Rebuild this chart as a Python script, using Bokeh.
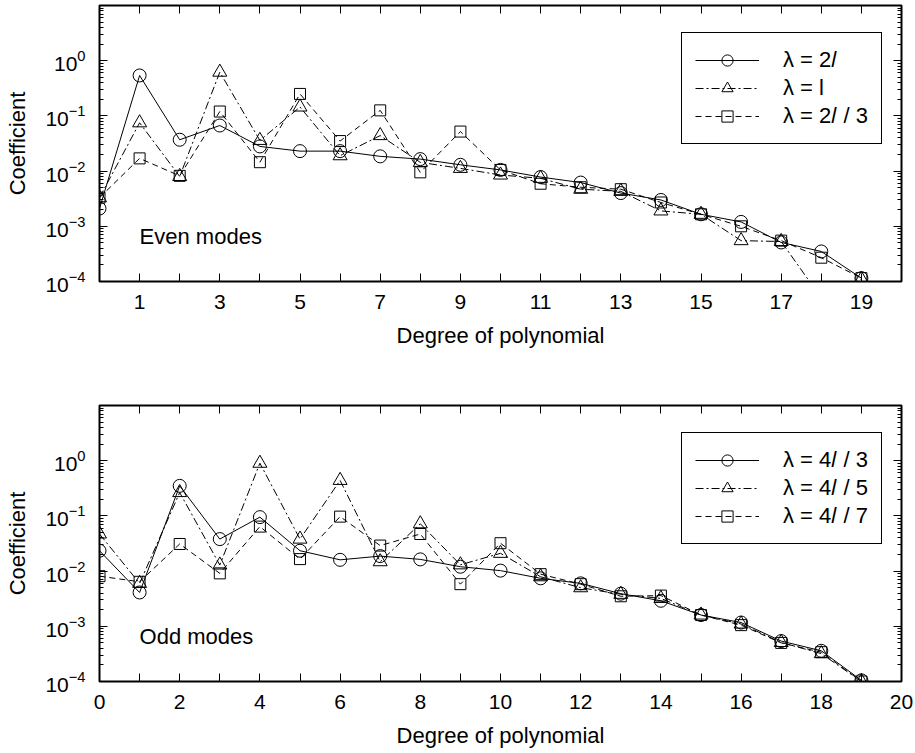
from bokeh.plotting import figure
from bokeh.layouts import column
from bokeh.models import (FixedTicker, LinearAxis, LogAxis, LogTickFormatter,
                          CustomJSTickFormatter, Legend, LegendItem, Label, Range1d)
from bokeh.embed import file_html
from bokeh.resources import INLINE

FONT = "Liberation Sans"

degrees = list(range(20))

# Even modes
even_lam_2l = [2.1e-3, 0.54, 0.037, 0.067, 0.028, 0.023, 0.023, 0.0185, 0.0165, 0.013,
               0.0105, 0.0078, 0.0062, 0.004, 0.003, 0.00165, 0.0012, 0.00051, 0.00035, 1.15e-4]
even_lam_l = [3.3e-3, 0.075, 0.008, 0.62, 0.036, 0.145, 0.019, 0.044, 0.0144, 0.0112,
              0.0085, 0.0074, 0.0047, 0.0043, 0.0019, 0.00165, 0.00055, 0.00053, 5e-5, 1.1e-4]
even_lam_2l3 = [3.3e-3, 0.017, 0.0082, 0.12, 0.0145, 0.25, 0.035, 0.126, 0.0095, 0.052,
                0.0105, 0.0059, 0.0051, 0.0047, 0.0027, 0.00165, 0.001, 0.00055, 0.00027, 1.15e-4]
even_labels = ["λ = 2𝑙", "λ = l", "λ = 2𝑙 / 3"]

# Odd modes
odd_lam_4l3 = [0.0234, 0.0041, 0.35, 0.038, 0.095, 0.0234, 0.016, 0.0187, 0.0163, 0.012,
               0.0102, 0.0074, 0.006, 0.0039, 0.0029, 0.0016, 0.00117, 0.00054, 0.00036, 1.05e-4]
odd_lam_4l5 = [0.047, 0.006, 0.265, 0.0129, 0.9, 0.038, 0.44, 0.0148, 0.072, 0.013,
               0.021, 0.0079, 0.005, 0.0038, 0.0032, 0.0016, 0.0011, 0.00051, 0.00032, 1.0e-4]
odd_lam_4l7 = [0.0081, 0.0064, 0.031, 0.0091, 0.064, 0.0165, 0.097, 0.029, 0.047, 0.0058,
               0.032, 0.0088, 0.0058, 0.0035, 0.0036, 0.0016, 0.00105, 0.0005, 0.00034, 1.0e-4]
odd_labels = ["λ = 4𝑙 / 3", "λ = 4𝑙 / 5", "λ = 4𝑙 / 7"]

y_major = [1e-4, 1e-3, 1e-2, 1e-1, 1e0]
y_minor = [k * 10.0 ** e for e in range(-4, 1) for k in range(2, 10)]

STYLES = [
    dict(marker="circle", size=13, dash="solid"),
    dict(marker="triangle", size=14, dash="8 3 2 3"),
    dict(marker="square", size=11, dash="6 4"),
]


def make_panel(series, labels, x_major, x_minor, note, height, top_border, bottom_border):
    p = figure(width=915, height=height, output_backend="svg", toolbar_location=None,
               y_axis_type="log", x_range=Range1d(0, 20), y_range=Range1d(1e-4, 10),
               min_border_left=99, min_border_right=14, min_border_top=top_border,
               min_border_bottom=bottom_border)
    p.grid.visible = False
    p.outline_line_color = "black"
    p.outline_line_width = 2
    p.background_fill_color = "white"
    p.border_fill_color = "white"

    # bottom axis
    xa = p.xaxis[0]
    xa.ticker = FixedTicker(ticks=x_major, minor_ticks=x_minor)
    xa.axis_line_color = None
    xa.major_tick_in = 8
    xa.major_tick_out = 0
    xa.minor_tick_in = 8
    xa.minor_tick_out = 0
    xa.major_tick_line_color = "black"
    xa.minor_tick_line_color = "black"
    xa.major_label_text_font = FONT
    xa.major_label_text_font_size = "21px"
    xa.major_label_text_color = "black"
    xa.major_label_standoff = 13
    xa.axis_label = "Degree of polynomial"
    xa.axis_label_text_font = FONT
    xa.axis_label_text_font_size = "22px"
    xa.axis_label_text_font_style = "normal"
    xa.axis_label_text_color = "black"
    xa.axis_label_standoff = 11

    # left axis
    ya = p.yaxis[0]
    ya.ticker = FixedTicker(ticks=y_major, minor_ticks=y_minor)
    ya.formatter = LogTickFormatter()
    ya.axis_line_color = None
    ya.major_tick_in = 8
    ya.major_tick_out = 0
    ya.minor_tick_in = 4
    ya.minor_tick_out = 0
    ya.major_tick_line_color = "black"
    ya.minor_tick_line_color = "black"
    ya.major_label_text_font = FONT
    ya.major_label_text_font_size = "21px"
    ya.major_label_text_color = "black"
    ya.major_label_standoff = 14
    ya.axis_label = "Coefficient"
    ya.axis_label_text_font = FONT
    ya.axis_label_text_font_size = "22px"
    ya.axis_label_text_font_style = "normal"
    ya.axis_label_text_color = "black"
    ya.axis_label_standoff = 12

    blank = CustomJSTickFormatter(code="return ''")
    # mirrored axes (ticks only)
    top = LinearAxis(ticker=FixedTicker(ticks=list(range(0, 21))), axis_line_color=None,
                     formatter=blank, major_tick_in=8, major_tick_out=0,
                     major_tick_line_color="black", major_label_standoff=0,
                     major_label_text_font_size="1px")
    p.add_layout(top, "above")
    right = LogAxis(ticker=FixedTicker(ticks=y_major, minor_ticks=y_minor), axis_line_color=None,
                    formatter=blank, major_tick_in=8, major_tick_out=0, minor_tick_in=4,
                    minor_tick_out=0, major_tick_line_color="black",
                    minor_tick_line_color="black", major_label_standoff=0,
                    major_label_text_font_size="1px")
    p.add_layout(right, "right")

    items = []
    for vals, lab, st in zip(series, labels, STYLES):
        ln = p.line(degrees, vals, line_color="black", line_width=1, line_dash=st["dash"])
        sc = p.scatter(degrees, vals, marker=st["marker"], size=st["size"],
                       fill_color=None, line_color="black", line_width=1)
        items.append(LegendItem(label=lab, renderers=[ln, sc]))

    legend = Legend(items=items, location=(582, 137), glyph_width=64, glyph_height=28,
                    label_height=20, label_standoff=24, spacing=0, padding=13,
                    label_text_font=FONT, label_text_font_size="22px",
                    label_text_color="black",
                    border_line_color="black", border_line_width=1, border_line_alpha=1.0,
                    background_fill_color="white", background_fill_alpha=1.0)
    p.add_layout(legend, "center")

    p.add_layout(Label(x=1, y=6.5e-4, text=note, text_font=FONT, text_font_size="22px",
                       text_color="black", text_baseline="alphabetic", text_align="left"))
    return p


p1 = make_panel([even_lam_2l, even_lam_l, even_lam_2l3], even_labels,
                list(range(1, 20, 2)), list(range(0, 21, 2)), "Even modes",
                height=370, top_border=5, bottom_border=89)
p2 = make_panel([odd_lam_4l3, odd_lam_4l5, odd_lam_4l7], odd_labels,
                list(range(0, 21, 2)), list(range(1, 20, 2)), "Odd modes",
                height=383, top_border=35, bottom_border=72)

layout = column(p1, p2)
open("out.html", "w").write(file_html(layout, INLINE))
